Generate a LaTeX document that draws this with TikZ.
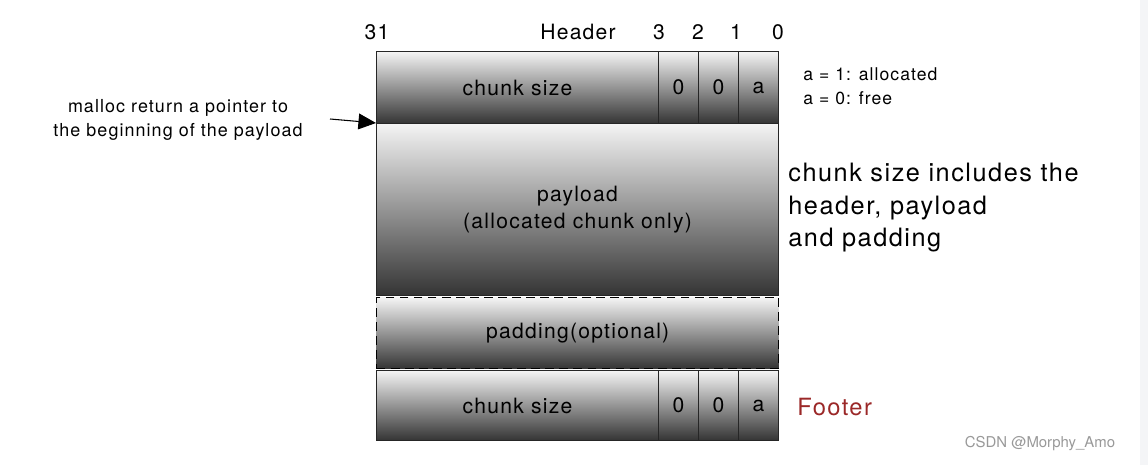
\documentclass[tikz,border=0pt]{standalone}
\usepackage{fontspec}
\setmainfont{TeX Gyre Heros}[LetterSpace=6]
\newfontfamily\plainfont{TeX Gyre Heros}
\usetikzlibrary{arrows.meta}
\definecolor{lite}{RGB}{244,244,244}
\definecolor{dark}{RGB}{52,52,52}
\definecolor{footred}{RGB}{155,40,40}
\definecolor{strip}{RGB}{244,245,247}
\tikzset{
  cell/.style={draw=black!85, line width=0.6pt, top color=lite, bottom color=dark, shading angle=0, inner sep=0pt, anchor=north west, font=\fontsize{12}{14}\selectfont},
  lbl/.style={inner sep=0pt, font=\fontsize{12}{14}\selectfont},
  note/.style={inner sep=0pt, anchor=west, font=\fontsize{10}{12}\selectfont},
  big/.style={inner sep=0pt, anchor=west, font=\fontsize{14.4}{18.5}\selectfont, align=left},
}
\begin{document}
\begin{tikzpicture}[x=0.02cm, y=-0.02cm]
\useasboundingbox (0,0) rectangle (1148,465);
\fill[white] (0,0) rectangle (1148,465);
\fill[strip] (1140,0) rectangle (1148,465);
% header row
\node[cell, minimum width=282*0.02cm, minimum height=72*0.02cm] (hcs) at (376,51) {chunk size};
\node[cell, minimum width=40*0.02cm, minimum height=72*0.02cm] (h3) at (658,51) {0};
\node[cell, minimum width=40*0.02cm, minimum height=72*0.02cm] (h2) at (698,51) {0};
\node[cell, minimum width=40*0.02cm, minimum height=72*0.02cm] (h1) at (738,51) {a};
% payload
\node[cell, minimum width=402*0.02cm, minimum height=172*0.02cm, align=center] (pay) at (376,123) {payload\\[1pt](allocated chunk only)};
% padding
\node[cell, draw=black, line width=0.8pt, dashed, dash pattern=on 5pt off 3pt, minimum width=402*0.02cm, minimum height=71*0.02cm] (pad) at (376,297) {padding(optional)};
% footer row
\node[cell, minimum width=282*0.02cm, minimum height=70*0.02cm] (fcs) at (376,370) {chunk size};
\node[cell, minimum width=40*0.02cm, minimum height=70*0.02cm] (f3) at (658,370) {0};
\node[cell, minimum width=40*0.02cm, minimum height=70*0.02cm] (f2) at (698,370) {0};
\node[cell, minimum width=40*0.02cm, minimum height=70*0.02cm] (f1) at (738,370) {a};
% bit labels
\node[lbl] (b31) at (377,32) {31};
\node[lbl] (hdr) at (578,32) {Header};
\node[lbl] (b3) at (659,32) {3};
\node[lbl] (b2) at (698,32) {2};
\node[lbl] (b1) at (736,32) {1};
\node[lbl] (b0) at (778,32) {0};
% notes
\node[note] (n1) at (803,74) {a = 1: allocated};
\node[note] (n2) at (803,98) {a = 0: free};
\node[big] (incl) at (788,208) {chunk size includes the\\header, payload\\and padding};
\node[inner sep=0pt, anchor=west, text=footred, font=\fontsize{13.5}{15}\selectfont] (foot) at (797,407) {Footer};
\node[inner sep=0pt, align=center, font=\fontsize{10.2}{13.5}\selectfont] (mal) at (178,120) {malloc return a pointer to\\the beginning of the payload};
\coordinate (arrs) at (330,119);
\draw[line width=0.6pt, -{Triangle[length=10pt,width=9pt]}] (arrs) -- (pay.north west);
\node[inner sep=0pt, text=black!40, font=\plainfont\fontsize{8.5}{10}\selectfont] (csdn) at (1040,444) {CSDN @Morphy\_Amo};
\end{tikzpicture}
\end{document}
